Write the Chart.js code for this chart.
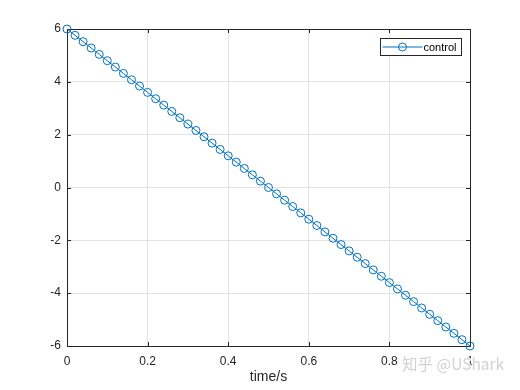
<!DOCTYPE html>
<html><head><meta charset="utf-8">
<script src="https://cdn.jsdelivr.net/npm/chart.js@4/dist/chart.umd.min.js"></script>
<style>html,body{margin:0;padding:0;background:#fff}#w{width:520px;height:390px}</style>
</head><body><div id="w"><canvas id="c" width="520" height="390"></canvas></div>
<script>
const timeValues = [0,0.02,0.04,0.06,0.08,0.1,0.12,0.14,0.16,0.18,0.2,0.22,0.24,0.26,0.28,0.3,0.32,0.34,0.36,0.38,0.4,0.42,0.44,0.46,0.48,0.5,0.52,0.54,0.56,0.58,0.6,0.62,0.64,0.66,0.68,0.7,0.72,0.74,0.76,0.78,0.8,0.82,0.84,0.86,0.88,0.9,0.92,0.94,0.96,0.98,1];
const controlValues = [6,5.76,5.52,5.28,5.04,4.8,4.56,4.32,4.08,3.84,3.6,3.36,3.12,2.88,2.64,2.4,2.16,1.92,1.68,1.44,1.2,0.96,0.72,0.48,0.24,0,-0.24,-0.48,-0.72,-0.96,-1.2,-1.44,-1.68,-1.92,-2.16,-2.4,-2.64,-2.88,-3.12,-3.36,-3.6,-3.84,-4.08,-4.32,-4.56,-4.8,-5.04,-5.28,-5.52,-5.76,-6];
const xTicks = [0,0.2,0.4,0.6,0.8,1];
const yTicks = [-6,-4,-2,0,2,4,6];
const seriesName = 'control';
const xTitle = 'time/s';
const watermark = '知乎 @UShark';

const LINE = '#0072BD';
const AX = '#262626';
const FONT = '"Liberation Sans", Arial, sans-serif';

const framePlugin = {
  id: 'frame',
  beforeDatasetsDraw(chart) {
    const {ctx, chartArea: a, scales} = chart;
    ctx.save();
    ctx.strokeStyle = AX;
    ctx.lineWidth = 1;
    ctx.beginPath();
    ctx.rect(Math.round(a.left)+0.5, Math.round(a.top)+0.5, Math.round(a.right-a.left), Math.round(a.bottom-a.top));
    ctx.stroke();
    const tl = 4;
    ctx.beginPath();
    xTicks.forEach(v => {
      const x = Math.round(scales.x.getPixelForValue(v)) + 0.5;
      ctx.moveTo(x, a.bottom); ctx.lineTo(x, a.bottom - tl);
      ctx.moveTo(x, a.top); ctx.lineTo(x, a.top + tl);
    });
    yTicks.forEach(v => {
      const y = Math.round(scales.y.getPixelForValue(v)) + 0.5;
      ctx.moveTo(a.left, y); ctx.lineTo(a.left + tl, y);
      ctx.moveTo(a.right, y); ctx.lineTo(a.right - tl, y);
    });
    ctx.stroke();
    ctx.restore();
  },
  afterDraw(chart) {
    const {ctx} = chart;
    ctx.save();
    // legend
    const lx = 380.5, ly = 38.5, lw = 81, lh = 17;
    ctx.fillStyle = '#fff';
    ctx.fillRect(lx, ly, lw, lh);
    ctx.strokeStyle = AX;
    ctx.lineWidth = 1;
    ctx.strokeRect(lx, ly, lw, lh);
    const cy = ly + lh/2;
    ctx.strokeStyle = LINE;
    ctx.beginPath();
    ctx.moveTo(lx + 2, cy); ctx.lineTo(lx + 42, cy);
    ctx.stroke();
    ctx.beginPath();
    ctx.arc(lx + 22, cy, 4, 0, Math.PI*2);
    ctx.stroke();
    ctx.fillStyle = '#000';
    ctx.font = '11px ' + FONT;
    ctx.textBaseline = 'middle';
    ctx.textAlign = 'left';
    ctx.fillText(seriesName, lx + 43, cy + 0.5);
    // watermark
    ctx.font = '15.5px "Noto Sans CJK SC", sans-serif';
    ctx.textAlign = 'left';
    ctx.textBaseline = 'middle';
    ctx.lineWidth = 2;
    ctx.strokeStyle = 'rgba(255,255,255,0.9)';
    ctx.strokeText(watermark, 402, 364);
    ctx.fillStyle = 'rgba(205,205,205,0.9)';
    ctx.fillText(watermark, 402, 364);
    ctx.restore();
  }
};

new Chart(document.getElementById('c'), {
  type: 'scatter',
  data: {
    datasets: [{
      label: seriesName,
      data: timeValues.map((t, i) => ({x: t, y: controlValues[i]})),
      showLine: true,
      borderColor: LINE,
      borderWidth: 1,
      pointRadius: 4,
      pointBorderWidth: 1,
      pointBackgroundColor: 'rgba(0,0,0,0)',
      pointBorderColor: LINE,
      clip: false
    }]
  },
  options: {
    responsive: false,
    animation: false,
    devicePixelRatio: 1,
    layout: {padding: {left: 0, right: 50, top: 29, bottom: 0}},
    plugins: {legend: {display: false}, tooltip: {enabled: false}},
    scales: {
      x: {
        type: 'linear', min: 0, max: 1,
        afterFit(s) { s.height = 44; },
        afterBuildTicks(s) { s.ticks = xTicks.map(v => ({value: v})); },
        ticks: {color: AX, font: {family: FONT, size: 12}, padding: 8, callback: v => String(v), maxRotation: 0, autoSkip: false},
        grid: {color: '#e3e3e3', drawTicks: false},
        border: {display: false},
        title: {display: true, text: xTitle, color: AX, font: {family: FONT, size: 14}, padding: {top: 0, bottom: 4}}
      },
      y: {
        type: 'linear', min: -6, max: 6,
        afterFit(s) { s.width = 67; },
        afterBuildTicks(s) { s.ticks = yTicks.map(v => ({value: v})); },
        ticks: {color: AX, font: {family: FONT, size: 12}, padding: 6, callback: v => String(v), autoSkip: false},
        grid: {color: '#e3e3e3', drawTicks: false},
        border: {display: false}
      }
    }
  },
  plugins: [framePlugin]
});
</script>
</body></html>
